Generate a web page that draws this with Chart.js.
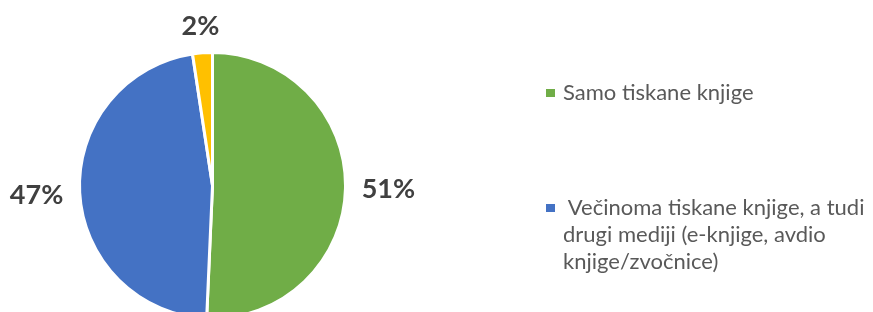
<!DOCTYPE html>
<html>
<head>
<meta charset="utf-8">
<script src="https://cdn.jsdelivr.net/npm/chart.js@4/dist/chart.umd.min.js"></script>
<style>
  html, body { margin: 0; padding: 0; background: #fff; overflow: hidden; }
  #wrap { position: relative; width: 873px; height: 312px; overflow: hidden; }
  #pie { position: absolute; left: 0; top: 0; }
  #legend { position: absolute; left: 546px; top: 0; font-family: Lato, sans-serif; font-size: 22px; color: #595959; }
  .item { position: absolute; left: 0; white-space: pre; line-height: 27px; }
  .box { position: absolute; left: 0; width: 9px; height: 8px; }
  .txt { position: absolute; left: 17px; }
</style>
</head>
<body>
<div id="wrap">
  <canvas id="pie" width="873" height="400"></canvas>
  <div id="legend"></div>
</div>
<script>
// shares of readers (%)
const categories = [
    ['Samo tiskane knjige'],
    [' Večinoma tiskane knjige, a tudi', 'drugi mediji (e-knjige, avdio', 'knjige/zvočnice)'],
    ['Drugo']
];
const values = [50.7, 46.9, 2.4];
const colors = ['#70AD47', '#4472C4', '#FFC000'];

// labels outside the slices, like "outside end" in office charts
const outsideLabels = {
    id: 'outsideLabels',
    afterDatasetsDraw(chart) {
        const ctx = chart.ctx;
        const arcs = chart.getDatasetMeta(0).data;
        ctx.save();
        ctx.font = 'bold 27px Lato, sans-serif';
        ctx.fillStyle = '#404040';
        ctx.textAlign = 'center';
        ctx.textBaseline = 'middle';
        arcs.forEach((arc, i) => {
            const text = Math.round(values[i]) + '%';
            const mid = (arc.startAngle + arc.endAngle) / 2;
            const w = ctx.measureText(text).width;
            const h = 19;
            const dx = Math.cos(mid), dy = Math.sin(mid);
            const dist = arc.outerRadius + 16 + Math.abs(dx) * w / 2 + Math.abs(dy) * h / 2;
            ctx.fillText(text, arc.x + dx * dist, arc.y + dy * dist);
        });
        ctx.restore();
    }
};

new Chart(document.getElementById('pie').getContext('2d'), {
    type: 'pie',
    data: {
        labels: categories,
        datasets: [{
            data: values,
            backgroundColor: colors,
            borderColor: '#ffffff',
            borderWidth: 3
        }]
    },
    options: {
        responsive: false,
        animation: false,
        radius: 133,
        layout: { padding: { left: 0, right: 448, top: 0, bottom: 29 } },
        plugins: {
            legend: { display: false },
            tooltip: { enabled: false }
        }
    },
    plugins: [outsideLabels]
});

// legend on the right
const legend = document.getElementById('legend');
const itemTops = [78, 193, 330];
categories.forEach((lines, i) => {
    const item = document.createElement('div');
    item.className = 'item';
    item.style.top = itemTops[i] + 'px';
    const box = document.createElement('div');
    box.className = 'box';
    box.style.background = colors[i];
    box.style.top = '11px';
    const txt = document.createElement('div');
    txt.className = 'txt';
    txt.textContent = lines.join('\n');
    item.appendChild(box);
    item.appendChild(txt);
    legend.appendChild(item);
});
</script>
</body>
</html>
